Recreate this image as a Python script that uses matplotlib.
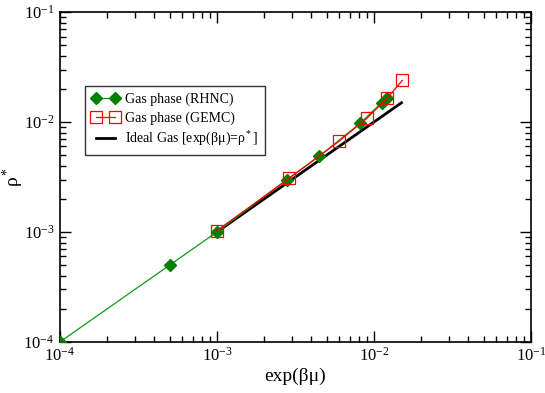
import matplotlib
matplotlib.use('Agg')
import matplotlib.pyplot as plt
from matplotlib.ticker import FuncFormatter
import math

plt.rcParams['font.family'] = ['Liberation Serif', 'DejaVu Serif']
plt.rcParams['mathtext.fontset'] = 'stix'

# RHNC gas phase
rhnc_x = [1e-4, 5e-4, 1e-3, 2.8e-3, 4.5e-3, 8.2e-3, 1.12e-2, 1.22e-2]
rhnc_y = [1e-4, 5e-4, 1e-3, 3.0e-3, 4.9e-3, 9.8e-3, 1.5e-2, 1.66e-2]

# GEMC gas phase
gemc_x = [1e-3, 2.9e-3, 6.0e-3, 9.0e-3, 1.22e-2, 1.52e-2]
gemc_y = [1.03e-3, 3.1e-3, 6.7e-3, 1.08e-2, 1.66e-2, 2.4e-2]

# ideal gas line
ideal_x = [1e-3, 1.5e-2]
ideal_y = [1e-3, 1.5e-2]


def pow_label(v, pos):
    return r'$\mathregular{10^{%d}}$' % round(math.log10(v))


fig = plt.figure(figsize=(5.45, 3.93), dpi=100)
ax = fig.add_axes([0.110, 0.130, 0.864, 0.839])

ax.plot(rhnc_x, rhnc_y, color='#119911', lw=0.9, marker='D', ms=6.5,
        mfc='#007f00', mec='#007f00', label='Gas phase (RHNC)', zorder=3)
ax.plot(gemc_x, gemc_y, color='#ff0000', lw=0.9, marker='s', ms=8,
        mfc='none', mec='#ff0000', mew=0.9, label='Gas phase (GEMC)', zorder=4)
ax.plot(ideal_x, ideal_y, color='black', lw=2,
        label='Ideal Gas [exp(βμ)=ρ$\\mathregular{^*}$]', zorder=2)

ax.set_xscale('log')
ax.set_yscale('log')
ax.set_xlim(1e-4, 1e-1)
ax.set_ylim(1e-4, 1e-1)
ax.xaxis.set_major_formatter(FuncFormatter(pow_label))
ax.yaxis.set_major_formatter(FuncFormatter(pow_label))

ax.tick_params(which='both', direction='in', top=True, right=True, labelsize=12)
ax.tick_params(which='major', length=8, width=1)
ax.tick_params(which='minor', length=4, width=1)
ax.tick_params(axis='y', pad=4)
for s in ax.spines.values():
    s.set_linewidth(1.2)

ax.set_xlabel('exp(βμ)', fontsize=14, labelpad=2)
ax.set_ylabel('ρ$\\mathregular{^*}$', fontsize=14)
ax.yaxis.set_label_coords(-0.072, 0.5)

leg = ax.legend(loc='upper left', bbox_to_anchor=(0.053, 0.776), numpoints=2,
                fontsize=10, frameon=True, fancybox=False, handlelength=2.0,
                handletextpad=0.4, borderpad=0.5, labelspacing=0.35,
                borderaxespad=0)
leg.get_frame().set_edgecolor('black')
leg.get_frame().set_linewidth(1.0)

fig.savefig('out.png', dpi=100)
